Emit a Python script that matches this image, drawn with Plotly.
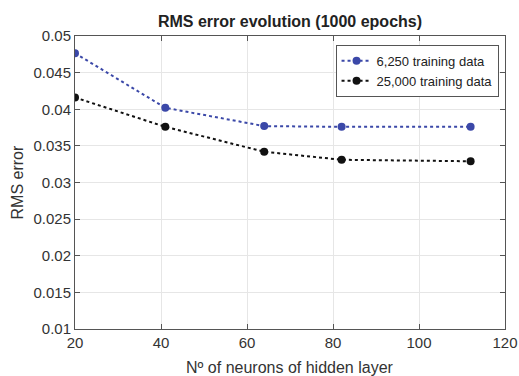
import plotly.graph_objects as go

neurons = [20, 41, 64, 82, 112]
rms_6250 = [0.04765, 0.0402, 0.0377, 0.0376, 0.0376]
rms_25000 = [0.0416, 0.0376, 0.0342, 0.0331, 0.0329]
series_names = ["6,250 training data", "25,000 training data"]
y_ticks = [0.01, 0.015, 0.02, 0.025, 0.03, 0.035, 0.04, 0.045, 0.05]
y_tick_text = ["0.01", "0.015", "0.02", "0.025", "0.03", "0.035", "0.04", "0.045", "0.05"]
x_ticks = [20, 40, 60, 80, 100, 120]

font_family = "Liberation Sans, Arial, sans-serif"
axis_color = "#555555"
text_color = "#333333"

L, R, T, B = 75, 14, 36, 47
W, H = 519, 376
pw, ph = W - L - R, H - T - B

fig = go.Figure()
fig.add_trace(go.Scatter(x=neurons, y=rms_6250, mode="lines+markers", name=series_names[0],
                         line=dict(color="#3b48a8", width=2, dash="dot"),
                         marker=dict(color="#3b48a8", size=8)))
fig.add_trace(go.Scatter(x=neurons, y=rms_25000, mode="lines+markers", name=series_names[1],
                         line=dict(color="#111111", width=2, dash="dot"),
                         marker=dict(color="#111111", size=8)))

fig.update_layout(
    width=W, height=H,
    margin=dict(l=L, r=R, t=T, b=B),
    paper_bgcolor="white", plot_bgcolor="white",
    font=dict(family=font_family, size=15, color=text_color),
    title=dict(text="<b>RMS error evolution (1000 epochs)</b>", x=(L + pw / 2) / W, xanchor="center",
               y=1 - 21 / H, yanchor="middle", font=dict(size=16, color="#222222")),
    showlegend=True,
    legend=dict(x=0.985, y=0.97, xanchor="right", yanchor="top",
                bgcolor="white", bordercolor=axis_color, borderwidth=1,
                font=dict(size=13, color="#222222"), tracegroupgap=0,
                itemwidth=30),
    annotations=[
        dict(text="Nº of neurons of hidden layer", xref="paper", yref="paper",
             x=0.5, y=(0 - (367 - (T + ph))) / ph, xanchor="center", yanchor="middle",
             showarrow=False, font=dict(size=16, color=text_color)),
        dict(text="RMS error", xref="paper", yref="paper",
             x=(17 - L) / pw, y=0.5, xanchor="center", yanchor="middle", textangle=-90,
             showarrow=False, font=dict(size=16, color=text_color)),
    ],
)
fig.update_xaxes(range=[20, 120], tickvals=x_ticks, showgrid=True, gridcolor="#e6e6e6",
                 zeroline=False, showline=True, linecolor=axis_color, linewidth=1, mirror="ticks",
                 ticks="inside", ticklen=5, tickcolor=axis_color, automargin=False,
                 tickfont=dict(size=15, color=text_color))
fig.update_yaxes(range=[0.01, 0.05], tickvals=y_ticks, ticktext=y_tick_text, showgrid=True, gridcolor="#e6e6e6",
                 zeroline=False, showline=True, linecolor=axis_color, linewidth=1, mirror="ticks",
                 ticks="inside", ticklen=5, tickcolor=axis_color, automargin=False,
                 tickfont=dict(size=15, color=text_color))

fig.write_html("out.html")
